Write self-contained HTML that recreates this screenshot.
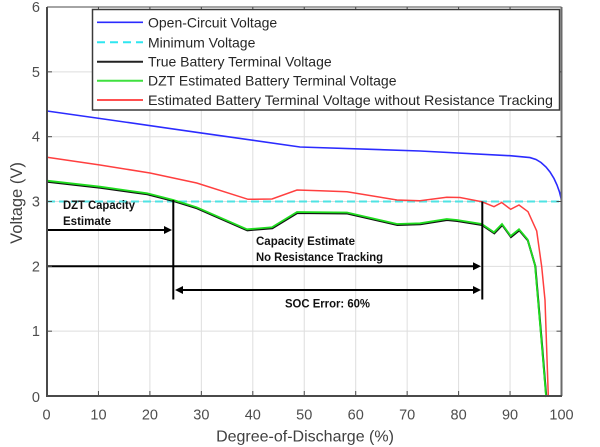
<!DOCTYPE html>
<html><head><meta charset="utf-8"><style>
html,body{margin:0;padding:0;background:#fff;}
svg{display:block;}
</style></head><body>
<svg width="600" height="447" viewBox="0 0 600 447" xmlns="http://www.w3.org/2000/svg" font-family="Liberation Sans, Arial, sans-serif">
<rect width="600" height="447" fill="#fff"/>
<!-- grid -->
<g stroke="#dedede" stroke-width="1">
<line x1="98.45" y1="7" x2="98.45" y2="396"/>
<line x1="149.9" y1="7" x2="149.9" y2="396"/>
<line x1="201.35" y1="7" x2="201.35" y2="396"/>
<line x1="252.8" y1="7" x2="252.8" y2="396"/>
<line x1="304.25" y1="7" x2="304.25" y2="396"/>
<line x1="355.7" y1="7" x2="355.7" y2="396"/>
<line x1="407.15" y1="7" x2="407.15" y2="396"/>
<line x1="458.6" y1="7" x2="458.6" y2="396"/>
<line x1="510.05" y1="7" x2="510.05" y2="396"/>
<line x1="47" y1="331.17" x2="561.5" y2="331.17"/>
<line x1="47" y1="266.34" x2="561.5" y2="266.34"/>
<line x1="47" y1="201.5" x2="561.5" y2="201.5"/>
<line x1="47" y1="136.7" x2="561.5" y2="136.7"/>
<line x1="47" y1="71.85" x2="561.5" y2="71.85"/>
</g>
<!-- blue OCV -->
<polyline fill="none" stroke="#2b2bff" stroke-width="1.6" points="47,111 100,118.5 200,132.8 300,147 420,151 510,155.7 530,157.6 536,159.5 541,162.5 546,167 550,172 554,178.5 557,185 559.5,192 561,198 561.5,201.5"/>
<!-- cyan dashed -->
<line x1="47" y1="201.5" x2="561.5" y2="201.5" stroke="#4fe3e3" stroke-width="2" stroke-dasharray="8,4"/>
<!-- red -->
<polyline fill="none" stroke="#ff3f3f" stroke-width="1.5" points="47,157.3 100,165 150,173 196.7,183 248,199.3 272,199 297,190 320,190.7 347,191.7 397,200 420,200.7 446.7,197.3 460,197.5 481.7,201.7 494,206.7 501.7,202.5 510.7,209.3 519,205 528,211.7 536.7,231 541.7,266.7 545,300 546.5,344 548.3,396"/>
<!-- black true -->
<polyline fill="none" stroke="#111" stroke-width="2" transform="translate(0.3,1)" points="47,180.7 100,186.7 147,193.3 173.3,200 196.7,207.3 247,229.3 272,227.3 297,212 347,212.5 397,224 420,223.3 446.7,219 457,220 481.7,224 494,232.3 502,224 510.7,236 519,229.3 527.5,239.3 535,265 538,300 542,347 546,396"/>
<!-- green -->
<polyline fill="none" stroke="#1fdc1f" stroke-width="1.8" points="47,180.7 100,186.7 147,193.3 173.3,200 196.7,207.3 247,229.3 272,227.3 297,212 347,212.5 397,224 420,223.3 446.7,219 457,220 481.7,224 494,232.3 502,224 510.7,236 519,229.3 527.5,239.3 535,265 538,300 542,347 546,396"/>
<!-- annotations -->
<g stroke="#000" stroke-width="2" fill="none">
<line x1="173.3" y1="200" x2="173.3" y2="299.5"/>
<line x1="482.3" y1="201.5" x2="482.3" y2="299.5"/>
<line x1="47" y1="230" x2="166" y2="230"/>
<line x1="47" y1="266.3" x2="476" y2="266.3"/>
<line x1="181" y1="290" x2="476" y2="290"/>
</g>
<g fill="#000">
<polygon points="172,230 164,226 164,234"/>
<polygon points="481,266.3 473,262.3 473,270.3"/>
<polygon points="481,290 473,286 473,294"/>
<polygon points="175,290 183,286 183,294"/>
</g>
<g font-weight="bold" font-size="12.4" fill="#111">
<text x="63" y="209" textLength="72" lengthAdjust="spacingAndGlyphs">DZT Capacity</text>
<text x="63" y="225" textLength="48" lengthAdjust="spacingAndGlyphs">Estimate</text>
<text x="256" y="245" textLength="99" lengthAdjust="spacingAndGlyphs">Capacity Estimate</text>
<text x="256" y="261" textLength="127" lengthAdjust="spacingAndGlyphs">No Resistance Tracking</text>
<text x="285" y="307.3" textLength="85" lengthAdjust="spacingAndGlyphs">SOC Error: 60%</text>
</g>
<!-- axes box -->
<g stroke="#4a4a4a" fill="none">
<line x1="47" y1="7" x2="561.5" y2="7" stroke-width="1"/>
<line x1="561.5" y1="7" x2="561.5" y2="396" stroke-width="2" stroke="#6a6a6a"/>
<line x1="47" y1="7" x2="47" y2="396.5" stroke-width="2"/>
<line x1="46" y1="396" x2="562" y2="396" stroke-width="2"/>
</g>
<!-- ticks -->
<g stroke="#4a4a4a" stroke-width="1">
<line x1="98.45" y1="396" x2="98.45" y2="391"/><line x1="98.45" y1="7" x2="98.45" y2="12"/>
<line x1="149.9" y1="396" x2="149.9" y2="391"/><line x1="149.9" y1="7" x2="149.9" y2="12"/>
<line x1="201.35" y1="396" x2="201.35" y2="391"/><line x1="201.35" y1="7" x2="201.35" y2="12"/>
<line x1="252.8" y1="396" x2="252.8" y2="391"/><line x1="252.8" y1="7" x2="252.8" y2="12"/>
<line x1="304.25" y1="396" x2="304.25" y2="391"/><line x1="304.25" y1="7" x2="304.25" y2="12"/>
<line x1="355.7" y1="396" x2="355.7" y2="391"/><line x1="355.7" y1="7" x2="355.7" y2="12"/>
<line x1="407.15" y1="396" x2="407.15" y2="391"/><line x1="407.15" y1="7" x2="407.15" y2="12"/>
<line x1="458.6" y1="396" x2="458.6" y2="391"/><line x1="458.6" y1="7" x2="458.6" y2="12"/>
<line x1="510.05" y1="396" x2="510.05" y2="391"/><line x1="510.05" y1="7" x2="510.05" y2="12"/>
<line x1="47" y1="331.17" x2="52" y2="331.17"/><line x1="561.5" y1="331.17" x2="556.5" y2="331.17"/>
<line x1="47" y1="266.34" x2="52" y2="266.34"/><line x1="561.5" y1="266.34" x2="556.5" y2="266.34"/>
<line x1="47" y1="201.5" x2="52" y2="201.5"/><line x1="561.5" y1="201.5" x2="556.5" y2="201.5"/>
<line x1="47" y1="136.7" x2="52" y2="136.7"/><line x1="561.5" y1="136.7" x2="556.5" y2="136.7"/>
<line x1="47" y1="71.85" x2="52" y2="71.85"/><line x1="561.5" y1="71.85" x2="556.5" y2="71.85"/>
</g>
<!-- legend -->
<rect x="92.5" y="9.5" width="467" height="100.5" fill="#fff" stroke="#3a3a3a" stroke-width="1.5"/>
<g stroke-width="1.6">
<line x1="97" y1="22.3" x2="143" y2="22.3" stroke="#2b2bff"/>
<line x1="97" y1="42.3" x2="143" y2="42.3" stroke="#2ee6f0" stroke-width="2" stroke-dasharray="8,5"/>
<line x1="97" y1="61.7" x2="143" y2="61.7" stroke="#222" stroke-width="2"/>
<line x1="97" y1="80.7" x2="143" y2="80.7" stroke="#3fe03f" stroke-width="2"/>
<line x1="97" y1="100" x2="143" y2="100" stroke="#ff5050" stroke-width="2"/>
</g>
<g font-size="14" fill="#262626">
<text x="148" y="27.3">Open-Circuit Voltage</text>
<text x="148" y="47.3">Minimum Voltage</text>
<text x="148" y="66.7">True Battery Terminal Voltage</text>
<text x="148" y="85.7">DZT Estimated Battery Terminal Voltage</text>
<text x="148" y="105" textLength="405" lengthAdjust="spacingAndGlyphs">Estimated Battery Terminal Voltage without Resistance Tracking</text>
</g>
<!-- tick labels -->
<g font-size="14.5" fill="#4d4d4d" text-anchor="end">
<text x="40" y="402">0</text>
<text x="40" y="336.2">1</text>
<text x="40" y="271.3">2</text>
<text x="40" y="206.5">3</text>
<text x="40" y="141.7">4</text>
<text x="40" y="76.9">5</text>
<text x="40" y="12">6</text>
</g>
<g font-size="14.5" fill="#4d4d4d" text-anchor="middle">
<text x="46.5" y="419.5">0</text>
<text x="98.45" y="419.5">10</text>
<text x="149.9" y="419.5">20</text>
<text x="201.35" y="419.5">30</text>
<text x="252.8" y="419.5">40</text>
<text x="304.25" y="419.5">50</text>
<text x="355.7" y="419.5">60</text>
<text x="407.15" y="419.5">70</text>
<text x="458.6" y="419.5">80</text>
<text x="510.05" y="419.5">90</text>
<text x="561.5" y="419.5">100</text>
</g>
<text x="305" y="441.5" font-size="16" fill="#404040" text-anchor="middle">Degree-of-Discharge (%)</text>
<text transform="translate(22,203) rotate(-90)" font-size="16.5" fill="#404040" text-anchor="middle">Voltage (V)</text>
</svg>
</body></html>
